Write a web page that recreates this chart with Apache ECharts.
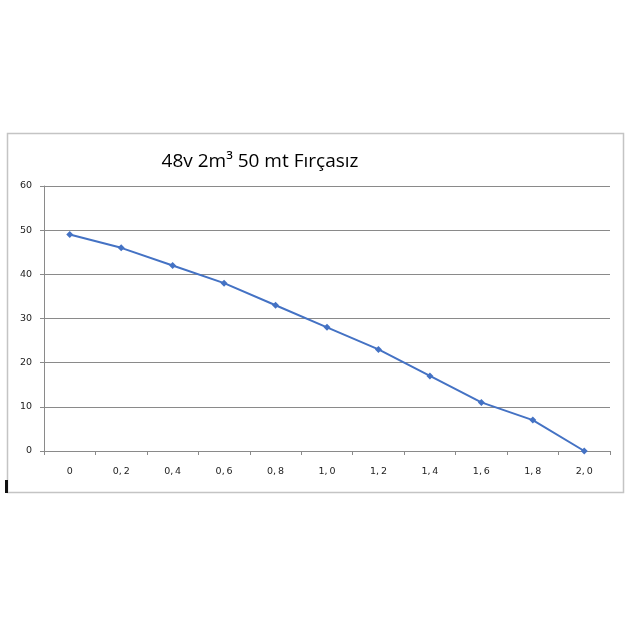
<!DOCTYPE html>
<html><head><meta charset="utf-8">
<script src="https://cdn.jsdelivr.net/npm/echarts@6/dist/echarts.min.js"></script>
<style>html,body{margin:0;padding:0;background:#fff}#c{width:630px;height:630px}</style>
</head><body><div id="c"></div>
<script>
const titleText = "48v 2m³ 50 mt Fırçasız";
const categories = ["0","0,2","0,4","0,6","0,8","1,0","1,2","1,4","1,6","1,8","2,0"];
const values = [49,46,42,38,33,28,23,17,11,7,0];
const yTicks = {min:0, max:60, interval:10};

const chart = echarts.init(document.getElementById('c'), null, {renderer:'canvas'});
chart.setOption({
  backgroundColor:'#fff',
  animation:false,
  title:{text:titleText, left:255, top:147, textAlign:'center',
    textStyle:{fontFamily:'Open Sans', fontSize:19, fontWeight:'normal', color:'#000'}},
  graphic:[
    {type:'rect', shape:{x:7.5,y:133.5,width:616,height:359}, style:{fill:'none', stroke:'#c4c4c4', lineWidth:1.5}, z:-1},
    {type:'rect', shape:{x:5,y:480,width:3,height:13}, style:{fill:'#111'}}
  ],
  grid:{left:44, right:20, top:186, bottom:179},
  xAxis:{type:'category', data:categories, boundaryGap:true,
    axisLine:{lineStyle:{color:'#8a8a8a', width:1}},
    axisTick:{show:true, length:4, lineStyle:{color:'#8a8a8a'}},
    axisLabel:{margin:16, fontFamily:'DejaVu Sans', fontSize:9.5, color:'#222',
      formatter:v=>v.replace(',', ',\u2009')}
  },
  yAxis:{type:'value', min:yTicks.min, max:yTicks.max, interval:yTicks.interval,
    axisLine:{show:true, lineStyle:{color:'#8a8a8a'}},
    axisTick:{show:true, length:4, lineStyle:{color:'#8a8a8a'}},
    splitLine:{lineStyle:{color:'#8a8a8a', width:1}},
    axisLabel:{margin:12, fontFamily:'DejaVu Sans', fontSize:9.5, color:'#222'}
  },
  series:[{type:'line', data:values, symbol:'diamond', symbolSize:7,
    lineStyle:{color:'#4472c4', width:2}, itemStyle:{color:'#4472c4'}}]
});
</script></body></html>
